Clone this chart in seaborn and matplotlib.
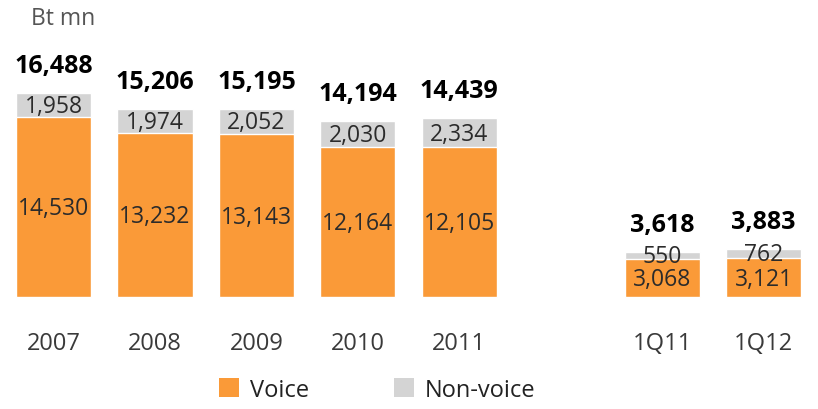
import matplotlib
matplotlib.use("Agg")
import matplotlib.pyplot as plt
import seaborn as sns
import pandas as pd
from matplotlib.patches import Patch

periods = ["2007", "2008", "2009", "2010", "2011", "1Q11", "1Q12"]
voice = [14530, 13232, 13143, 12164, 12105, 3068, 3121]
non_voice = [1958, 1974, 2052, 2030, 2334, 550, 762]
totals = [16488, 15206, 15195, 14194, 14439, 3618, 3883]

ORANGE = "#FA9A38"
GREY = "#D4D4D4"

sns.set_theme(style="white")
plt.rcParams["font.family"] = ["Open Sans", "DejaVu Sans"]

df = pd.DataFrame({"period": periods, "voice": voice,
                   "non_voice": non_voice, "total": totals})

# annual bars, an empty slot, then quarterly bars
order = periods[:5] + [" "] + periods[5:]
pos = {p: i for i, p in enumerate(order)}

fig = plt.figure(figsize=(8.18, 4.10), dpi=100)
ax = fig.add_axes([0, 0, 1, 1])

sns.barplot(data=df, x="period", y="total", order=order, color=GREY,
            width=0.74, saturation=1, ax=ax)
sns.barplot(data=df, x="period", y="voice", order=order, color=ORANGE,
            width=0.74, saturation=1, ax=ax)

ax.set_xlim(-0.528, 7.537)
ax.set_ylim(-9054, 24090)
ax.axis("off")

for p, v, nv, t in zip(periods, voice, non_voice, totals):
    x = pos[p]
    ax.text(x, v / 2 - 100, f"{v:,}", ha="center", va="center",
            fontsize=16.5, color="#2b2b2b")
    ax.text(x, v + nv / 2 - 60, f"{nv:,}", ha="center", va="center",
            fontsize=16.5, color="#2b2b2b")
    ax.text(x, t + 2250, f"{t:,}", ha="center", va="center",
            fontsize=18, color="black", fontweight="bold")
    ax.text(x, -3700, p, ha="center", va="center",
            fontsize=17, color="#3a3a3a")

fig.text(31 / 818, 1 - 19 / 410, "Bt mn", ha="left", va="center",
         fontsize=16.5, color="#555555")

handles = [Patch(facecolor=ORANGE, edgecolor="none", label="Voice"),
           Patch(facecolor=GREY, edgecolor="none", label="Non-voice")]
fig.legend(handles=handles, loc="center", bbox_to_anchor=(377 / 818, 1 - 391 / 410),
           ncol=2, frameon=False, fontsize=17, handlelength=0.85, handleheight=0.85,
           handletextpad=0.45, columnspacing=3.6, labelcolor="#222222")

fig.savefig("out.png", dpi=100)
